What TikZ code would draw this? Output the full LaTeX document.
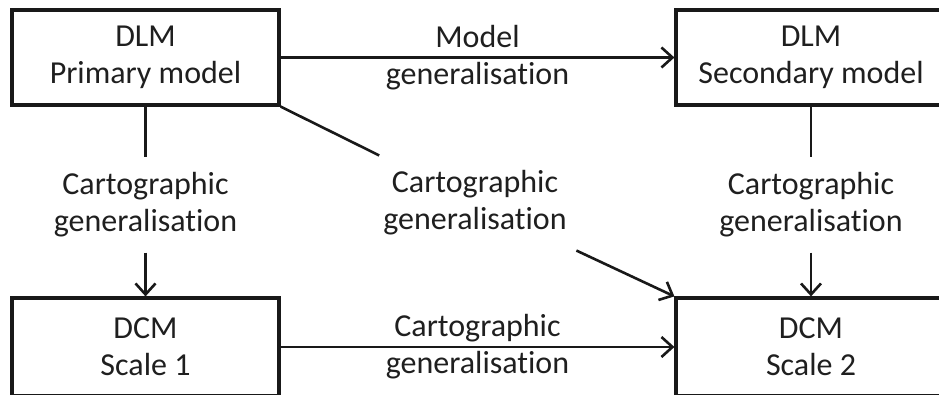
\documentclass[tikz,border=0pt]{standalone}
\usepackage{fontspec}
\setmainfont{Carlito}[Ligatures=NoCommon]
\usepackage{tikz}
\usetikzlibrary{arrows.meta}

\begin{document}
\begin{tikzpicture}[x=1pt,y=1pt,
  box/.style={draw=black!90,line width=3.2pt,minimum width=267pt,minimum height=95pt,align=center},
  lab/.style={align=center,inner sep=15pt},
  arr/.style={line width=2.6pt,draw=black!90,-{Straight Barb[length=11pt,width=20pt]}},
  con/.style={line width=2.6pt,draw=black!90}]
\useasboundingbox(0,0) rectangle (939,394);
\clip(0,0) rectangle (939,394);
\fontsize{32}{37}\selectfont
\color{black!88}

% the four models
\node[box](dlm1) at (145.5,336.5) {DLM\\Primary model};
\node[box,minimum width=270pt](dlm2) at (811,336.5) {DLM\\Secondary model};
\node[box,minimum height=98pt](dcm1) at (145.5,47) {DCM\\Scale 1};
\node[box,minimum width=270pt,minimum height=98pt](dcm2) at (811,47) {DCM\\Scale 2};

% labels in between
\node[lab](cg1) at (145.5,189) {Cartographic\\generalisation};
\node[lab](cg2) at (475,191) {Cartographic\\generalisation};
\node[lab](cg3) at (811,189) {Cartographic\\generalisation};

\draw[arr](dlm1.east)--(dlm2.west) node[midway,align=center](mg){Model\\generalisation};
\draw[arr](dcm1.east)--(dcm2.west) node[midway,align=center](cg4){Cartographic\\generalisation};

\draw[con](dlm1)--(cg1);
\draw[arr](cg1)--(dcm1);
\draw[con](dlm1.south east)--(cg2);
\draw[arr](cg2)--(dcm2.north west);
\draw[con](dlm2)--(cg3);
\draw[arr](cg3)--(dcm2);

\end{tikzpicture}
\end{document}
